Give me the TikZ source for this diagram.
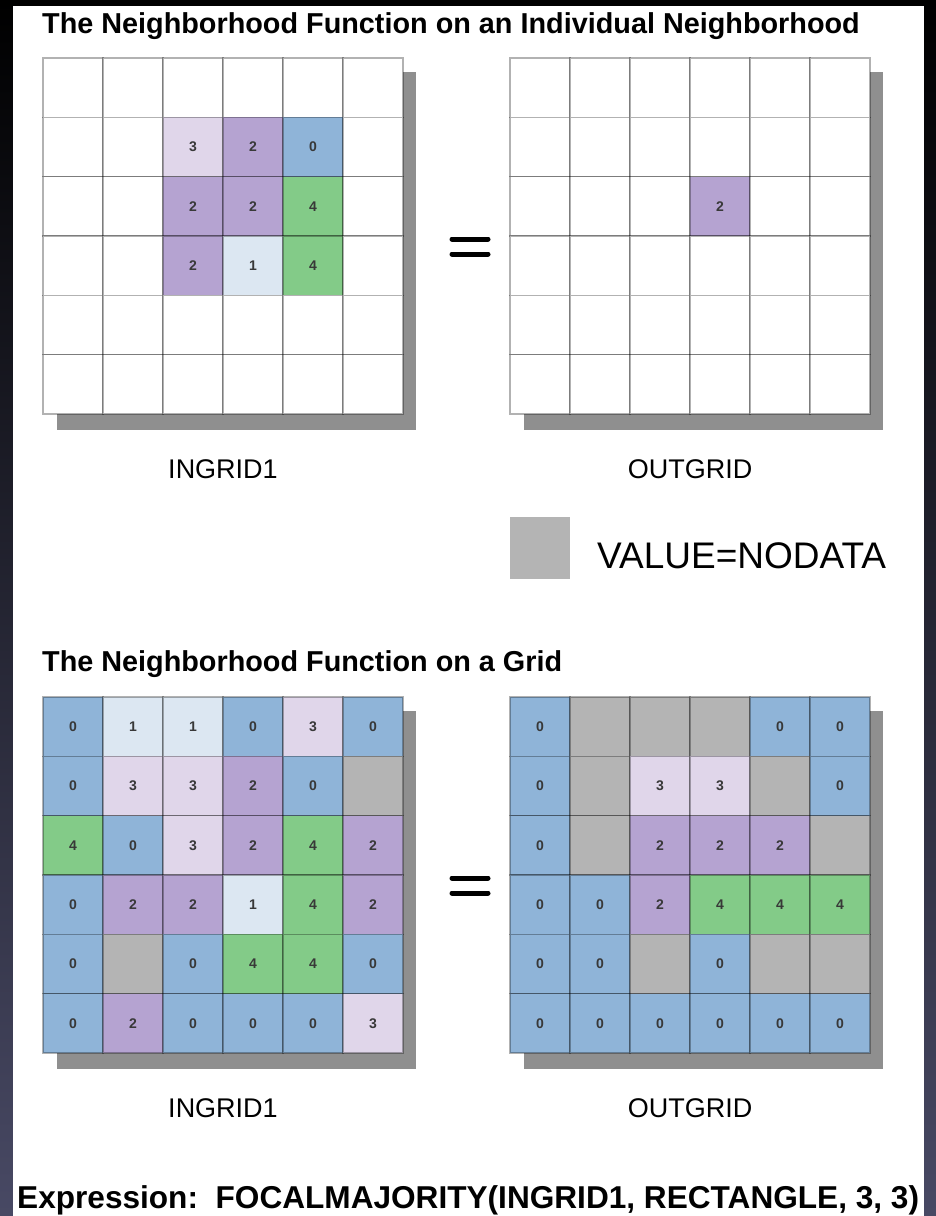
\documentclass[tikz,border=0pt]{standalone}
\usepackage{fontspec}
\setmainfont{Liberation Sans}
\definecolor{cell0}{RGB}{143,180,216}
\definecolor{cell1}{RGB}{220,231,242}
\definecolor{cell2}{RGB}{181,163,209}
\definecolor{cell3}{RGB}{224,214,234}
\definecolor{cell4}{RGB}{131,203,136}
\definecolor{cellN}{RGB}{180,180,180}
\definecolor{cellW}{RGB}{255,255,255}
\definecolor{shadowgray}{RGB}{143,143,143}
\definecolor{bgbottom}{RGB}{72,73,100}
\expandafter\def\csname lbl0\endcsname{0}
\expandafter\def\csname lbl1\endcsname{1}
\expandafter\def\csname lbl2\endcsname{2}
\expandafter\def\csname lbl3\endcsname{3}
\expandafter\def\csname lbl4\endcsname{4}
\expandafter\def\csname lblN\endcsname{}
\expandafter\def\csname lblW\endcsname{}
\tikzset{
  cell/.style={draw=black, draw opacity=0.3, line width=1.1pt, minimum width=60pt,
    minimum height=59.33pt, inner sep=0pt, font=\bfseries\fontsize{14}{14}\selectfont, text=black!78},
  gridshadow/.style={fill=shadowgray},
  gridlabel/.style={font=\fontsize{27}{27}\selectfont, anchor=base, inner sep=0pt},
  titletext/.style={font=\bfseries\fontsize{28.8}{28.8}\selectfont, anchor=base west, inner sep=0pt},
  eqbar/.style={line width=5pt, line cap=round},
}
\newcommand\drawcellgrid[4]{%
  \fill[gridshadow] (#2+14,#3+14) rectangle (#2+373,#3+372);
  \foreach \rowv [count=\r from 0] in {#4} {
    \foreach \v [count=\c from 0] in \rowv {
      \node[cell, fill=cell\v] (#1-\r-\c) at (#2+60*\c+30, #3+59.33*\r+29.67) {\csname lbl\v\endcsname};
    }
  }
}
\begin{document}
\begin{tikzpicture}[x=1pt, y=-1pt]
\useasboundingbox (0,0) rectangle (936,1216);
\shade[top color=black, bottom color=bgbottom] (0,0) rectangle (936,1216);
\fill[white] (13,6) rectangle (924,1216);

% titles
\node[titletext] (title1) at (42,33) {The Neighborhood Function on an Individual Neighborhood};
\node[titletext] (title2) at (42,671) {The Neighborhood Function on a Grid};

% top grids
\drawcellgrid{ta}{43}{58}{{W,W,W,W,W,W},{W,W,3,2,0,W},{W,W,2,2,4,W},{W,W,2,1,4,W},{W,W,W,W,W,W},{W,W,W,W,W,W}}
\drawcellgrid{tb}{510}{58}{{W,W,W,W,W,W},{W,W,W,W,W,W},{W,W,W,2,W,W},{W,W,W,W,W,W},{W,W,W,W,W,W},{W,W,W,W,W,W}}
\draw[eqbar] (452,239) -- (488,239);
\draw[eqbar] (452,254) -- (488,254);
\node[gridlabel] (lab1) at (223,478) {INGRID1};
\node[gridlabel] (lab2) at (690,478) {OUTGRID};

% legend
\node[fill=cellN, minimum width=60pt, minimum height=62pt, inner sep=0pt] (nodatabox) at (540,548) {};
\node[font=\fontsize{37}{37}\selectfont, anchor=base west, inner sep=0pt] (nodatatext) at (597,568) {VALUE=NODATA};

% bottom grids
\drawcellgrid{ba}{43}{697}{{0,1,1,0,3,0},{0,3,3,2,0,N},{4,0,3,2,4,2},{0,2,2,1,4,2},{0,N,0,4,4,0},{0,2,0,0,0,3}}
\drawcellgrid{bb}{510}{697}{{0,N,N,N,0,0},{0,N,3,3,N,0},{0,N,2,2,2,N},{0,0,2,4,4,4},{0,0,N,0,N,N},{0,0,0,0,0,0}}
\draw[eqbar] (452,878) -- (488,878);
\draw[eqbar] (452,893) -- (488,893);
\node[gridlabel] (lab3) at (223,1117) {INGRID1};
\node[gridlabel] (lab4) at (690,1117) {OUTGRID};

% expression
\node[font=\bfseries\fontsize{31.6}{31.6}\selectfont, anchor=base west, inner sep=0pt] (expr) at (17,1208)
  {Expression:\ \ FOCALMAJORITY(INGRID1, RECTANGLE, 3, 3)};
\end{tikzpicture}
\end{document}
